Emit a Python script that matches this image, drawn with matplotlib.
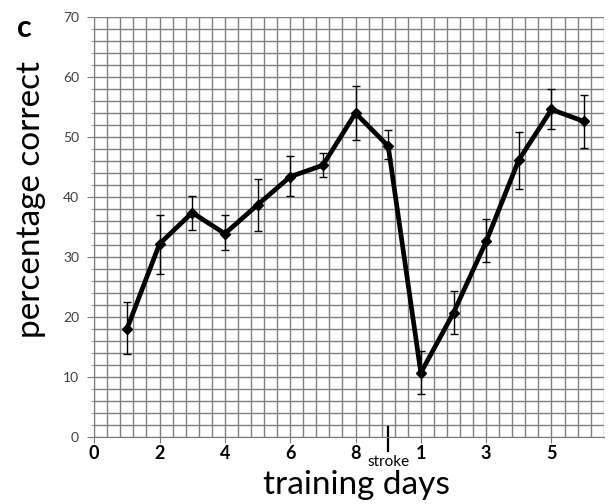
import numpy as np
import matplotlib
matplotlib.use("Agg")
import matplotlib.pyplot as plt
from matplotlib.ticker import MultipleLocator
import matplotlib.transforms as mtransforms

# training day position along the axis (stroke sits at day 9)
days = [1, 2, 3, 4, 5, 6, 7, 8, 9, 10, 11, 12, 13, 14, 15]
pct_correct = [18.0, 32.2, 37.4, 33.9, 38.7, 43.4, 45.3, 54.0, 48.5,
               10.7, 20.7, 32.6, 46.2, 54.6, 52.6]
err_upper = [22.5, 37.0, 40.2, 37.0, 43.0, 46.8, 47.3, 58.6, 51.2,
             14.3, 24.3, 36.4, 50.8, 58.1, 57.1]
err_lower = [13.8, 27.2, 34.5, 31.2, 34.3, 40.1, 43.4, 49.5, 46.3,
             7.2, 17.2, 29.1, 41.3, 51.3, 48.2]

tick_pos = [0, 2, 4, 6, 8, 10, 12, 14]
tick_labels = ["0", "2", "4", "6", "8", "1", "3", "5"]
stroke_day = 9

font = ["Lato", "DejaVu Sans"]
plt.rcParams['font.family'] = font

fig = plt.figure(figsize=(6.08, 5.04), dpi=100)
ax = fig.add_axes([0.155, 0.133, 0.838, 0.833])

vals = np.array(pct_correct)
yerr = [vals - np.array(err_lower), np.array(err_upper) - vals]

ax.errorbar(days, pct_correct, yerr=yerr, fmt='none', ecolor='black',
            elinewidth=1.0, capsize=3, capthick=1.0, zorder=3)
ax.plot(days, pct_correct, color='black', linewidth=3.4, marker='D',
        markersize=5.5, zorder=4)

ax.set_xlim(0, 15.6)
ax.set_ylim(0, 70)

# graph-paper style grid
ax.xaxis.set_minor_locator(MultipleLocator(0.4))
ax.yaxis.set_major_locator(MultipleLocator(10))
ax.yaxis.set_minor_locator(MultipleLocator(2))
ax.grid(which='both', color='#808080', linewidth=1.0)
ax.set_axisbelow(True)

ax.set_xticks(tick_pos)
ax.set_xticklabels(tick_labels, fontsize=13, fontweight='bold')
ax.tick_params(axis='x', which='major', length=4, color='#7a7a7a', pad=2)
ax.tick_params(axis='x', which='minor', length=0)
ax.tick_params(axis='y', which='major', length=5, color='#7a7a7a',
               labelsize=10, labelcolor='#404040', pad=6)
ax.tick_params(axis='y', which='minor', length=2, color='#7a7a7a')

for s in ['top', 'right']:
    ax.spines[s].set_visible(False)
for s in ['left', 'bottom']:
    ax.spines[s].set_color('#7a7a7a')

# stroke marker below the axis
trans = mtransforms.blended_transform_factory(ax.transData, ax.transAxes)
ax.plot([stroke_day, stroke_day], [0.024, -0.033], color='black',
        linewidth=1.6, transform=trans, clip_on=False)
ax.text(stroke_day, -0.042, "stroke", transform=trans, ha='center',
        va='top', fontsize=11)

ax.set_ylabel("percentage correct", fontsize=24)
ax.yaxis.set_label_coords(-0.095, 0.565)
ax.set_xlabel("training days", fontsize=24)
ax.xaxis.set_label_coords(0.514, -0.137)
ax.xaxis.label.set_va('baseline')

fig.text(0.028, 0.945, "c", fontsize=22, fontweight='bold', va='center')

fig.savefig("out.png", dpi=100)
